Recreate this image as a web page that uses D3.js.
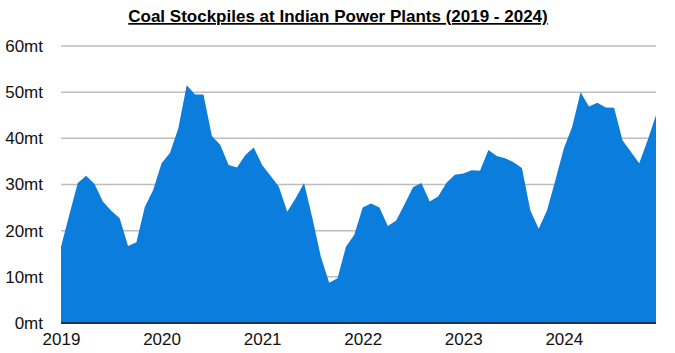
<!DOCTYPE html>
<html><head><meta charset="utf-8">
<script src="https://cdn.jsdelivr.net/npm/d3@7"></script>
<style>
body{margin:0;background:#fff;}
text{font-family:"Liberation Sans",Arial,Helvetica,sans-serif;}
</style></head>
<body><svg id="c" width="675" height="353"></svg>
<script>
const title = "Coal Stockpiles at Indian Power Plants (2019 - 2024)";
const years = [2019, 2020, 2021, 2022, 2023, 2024];
const yTicks = [0, 10, 20, 30, 40, 50, 60];
// monthly coal stock (million tonnes), Jan 2019 - Dec 2024
const stock2019 = [16.5, 23.5, 30.3, 31.9, 30.1, 26.3, 24.3, 22.7, 16.7, 17.5, 25.1, 28.8];
const stock2020 = [34.6, 36.8, 42.2, 51.5, 49.5, 49.5, 40.5, 38.6, 34.2, 33.7, 36.4, 38.0];
const stock2021 = [34.2, 31.9, 29.5, 24.1, 27.0, 30.3, 22.7, 14.4, 8.7, 9.7, 16.5, 19.1];
const stock2022 = [25.0, 25.9, 25.0, 21.0, 22.2, 25.7, 29.4, 30.3, 26.3, 27.4, 30.4, 32.1];
const stock2023 = [32.4, 33.1, 33.0, 37.5, 36.2, 35.7, 34.8, 33.6, 24.4, 20.4, 24.4, 31.0];
const stock2024 = [37.8, 42.5, 50.0, 46.9, 47.7, 46.7, 46.6, 39.6, 37.1, 34.6, 39.6, 45.0];

const values = [].concat(stock2019, stock2020, stock2021, stock2022, stock2023, stock2024);
const data = values.map((v, i) => ({ t: years[0] + i / 12, v }));

const svg = d3.select("#c");
const L = 61, R = 656, T = 46, B = 323;
const x = d3.scaleLinear().domain([years[0], years[0] + (values.length - 1) / 12]).range([L, R]);
const y = d3.scaleLinear().domain([0, 60]).range([B, T]);

// gridlines
svg.append("g").selectAll("line").data(yTicks.filter(d => d > 0)).join("line")
  .attr("x1", L).attr("x2", R)
  .attr("y1", d => y(d)).attr("y2", d => y(d))
  .attr("stroke", "#bdbdbd").attr("stroke-width", 1.5);

// area
svg.append("path").datum(data)
  .attr("d", d3.area().x(d => x(d.t)).y0(y(0)).y1(d => y(d.v)))
  .attr("fill", "#0a7ddd");

// baseline
svg.append("line").attr("x1", L).attr("x2", R).attr("y1", B).attr("y2", B)
  .attr("stroke", "#1b3550").attr("stroke-width", 2);

// y axis labels
const yAxis = d3.axisLeft(y).tickValues(yTicks).tickFormat(d => d + "mt").tickSize(0).tickPadding(18);
const gy = svg.append("g").attr("transform", `translate(${L},0)`).call(yAxis);
gy.select(".domain").remove();
gy.selectAll("text").attr("font-size", 17).attr("fill", "#111")
  .attr("font-family", "Liberation Sans, Arial, sans-serif");

// x axis labels
const xAxis = d3.axisBottom(x).tickValues(years).tickFormat(d3.format("d")).tickSize(0).tickPadding(10);
const gx = svg.append("g").attr("transform", `translate(0,${B})`).call(xAxis);
gx.select(".domain").remove();
gx.selectAll("text").attr("font-size", 17).attr("fill", "#111")
  .attr("font-family", "Liberation Sans, Arial, sans-serif");

// title
svg.append("text").attr("x", 338).attr("y", 22).attr("text-anchor", "middle")
  .attr("font-size", 17).attr("font-weight", "bold").attr("fill", "#000")
  .attr("text-decoration", "underline")
  .text(title);
</script></body></html>
